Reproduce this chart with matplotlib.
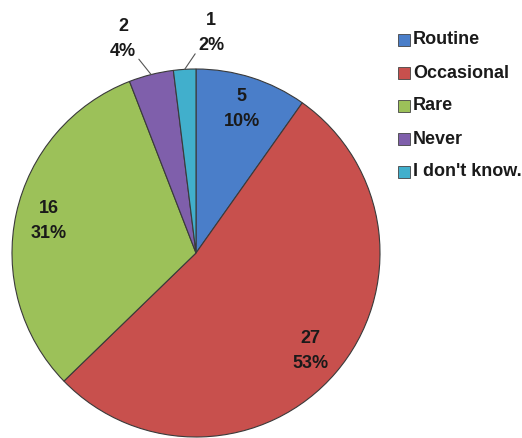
import numpy as np
import matplotlib.pyplot as plt
from matplotlib.patches import Rectangle

# --- data ---
categories = ["Routine", "Occasional", "Rare", "Never", "I don't know."]
counts = [5, 27, 16, 2, 1]
colors = ["#4a7ec9", "#c8504d", "#9cc159", "#7f5fab", "#41afcc"]

W, H = 522, 438
fig = plt.figure(figsize=(W / 100, H / 100), dpi=100)
ax = fig.add_axes([0, 0, 1, 1])
ax.axis("off")

font = dict(family=["Liberation Sans", "DejaVu Sans"], fontweight="bold",
            fontsize=13, color="#1a1a1a")

cx, cy, R = 196, H - 253, 184
wedges, _ = ax.pie(counts, colors=colors, startangle=90, counterclock=False,
                   center=(cx, cy), radius=R,
                   wedgeprops=dict(edgecolor="#3a3a3a", linewidth=0.8))
ax.set_xlim(0, W)
ax.set_ylim(0, H)
ax.set_aspect("equal")

total = sum(counts)
labels = [f"{v}\n{round(100 * v / total)}%" for v in counts]

# small slices get their labels outside with a leader line
outside = {3: (123, H - 39, (1, 0.1)), 4: (211, H - 33, (0, 0.1))}

for i, w in enumerate(wedges):
    mid = np.deg2rad((w.theta1 + w.theta2) / 2)
    if i in outside:
        tx, ty, rel = outside[i]
        ex, ey = cx + R * np.cos(mid), cy + R * np.sin(mid)
        ax.annotate(labels[i], xy=(ex, ey), xytext=(tx, ty),
                    ha="center", va="center", linespacing=1.6,
                    arrowprops=dict(arrowstyle="-", color="#555555", lw=0.8,
                                    shrinkA=0, shrinkB=0, relpos=rel),
                    **font)
    else:
        r = 0.82 * R
        ax.text(cx + r * np.cos(mid), cy + r * np.sin(mid), labels[i],
                ha="center", va="center", linespacing=1.6, **font)

# legend
for i, (lab, col) in enumerate(zip(categories, colors)):
    y = H - (40 + 33 * i)
    ax.add_patch(Rectangle((398, y - 6), 12, 12, facecolor=col,
                           edgecolor="#444444", linewidth=0.6))
    ax.text(413, y, lab, ha="left", va="center", **font)

fig.savefig("out.png", dpi=100, facecolor="white")
